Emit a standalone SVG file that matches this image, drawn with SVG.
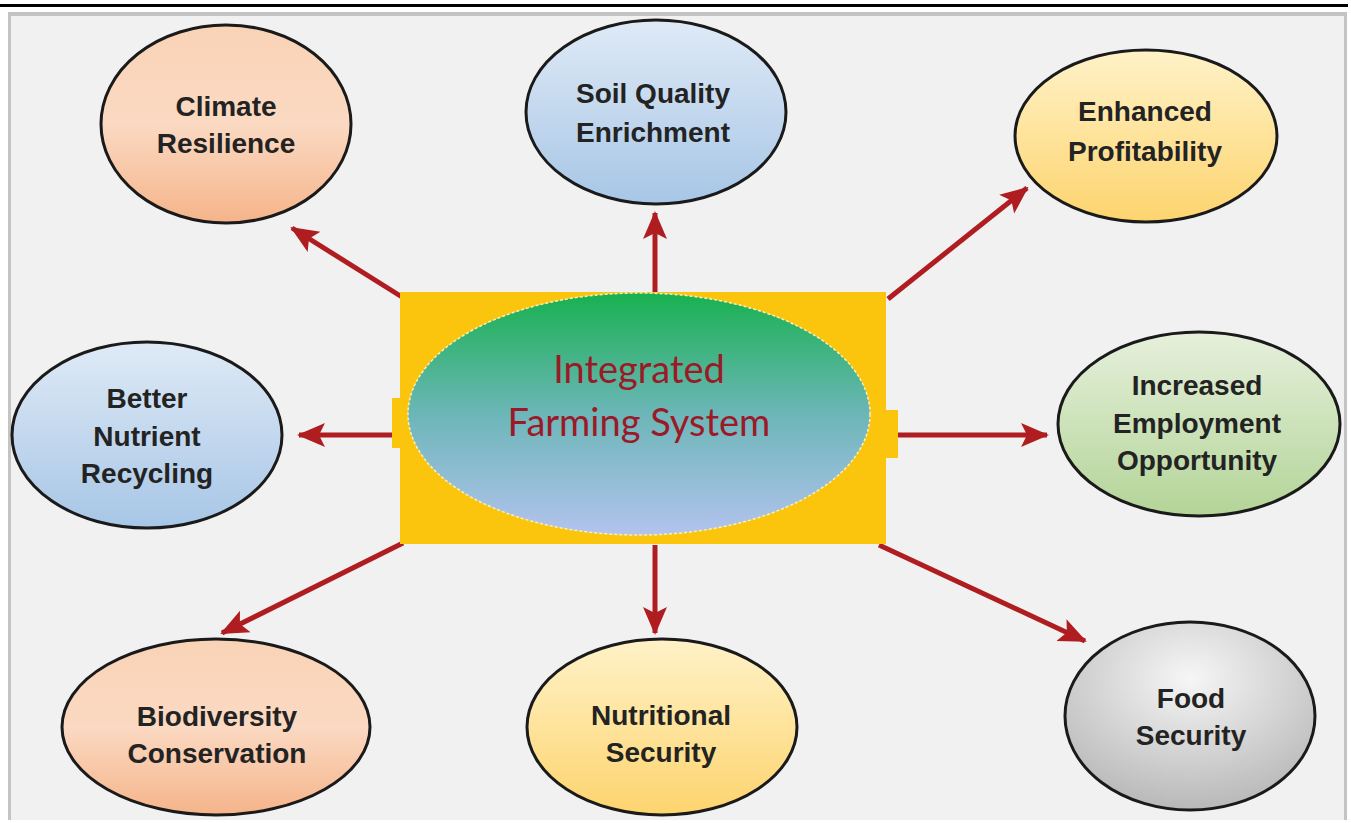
<svg xmlns="http://www.w3.org/2000/svg" width="1351" height="823" viewBox="0 0 1351 823">
<defs>
<linearGradient id="gPeach" x1="0" y1="0" x2="0" y2="1"><stop offset="0" stop-color="#f9d3b6"/><stop offset="0.5" stop-color="#fbd9c2"/><stop offset="1" stop-color="#f5b48a"/></linearGradient>
<linearGradient id="gBlue" x1="0" y1="0" x2="0" y2="1"><stop offset="0" stop-color="#dfeaf6"/><stop offset="1" stop-color="#a7c6e6"/></linearGradient>
<linearGradient id="gYellow" x1="0" y1="0" x2="0" y2="1"><stop offset="0" stop-color="#fff2c8"/><stop offset="1" stop-color="#fdd46e"/></linearGradient>
<linearGradient id="gGreen" x1="0" y1="0" x2="0" y2="1"><stop offset="0" stop-color="#e6f0dc"/><stop offset="1" stop-color="#b3d497"/></linearGradient>
<radialGradient id="gGray" cx="0.5" cy="0.3" r="0.75"><stop offset="0" stop-color="#f6f6f6"/><stop offset="1" stop-color="#b4b4b4"/></radialGradient>
<linearGradient id="gCenter" x1="0" y1="0" x2="0" y2="1"><stop offset="0" stop-color="#18b150"/><stop offset="0.5" stop-color="#6cb6b8"/><stop offset="1" stop-color="#b3c3ee"/></linearGradient>
<marker id="ah" markerUnits="userSpaceOnUse" markerWidth="28" markerHeight="28" viewBox="0 0 28 28" refX="26" refY="14" orient="auto">
<path d="M0,2 L28,14 L0,26 L6,14 Z" fill="#b01d20"/>
</marker>
<style>
.node ellipse{stroke:#1a1a1a;stroke-width:3}
.lbl{font-family:"Liberation Sans",Arial,sans-serif;font-weight:bold;font-size:28px;fill:#232323;text-anchor:middle}
.ctr{font-family:Lato,"Open Sans",sans-serif;font-size:38px;fill:#9b1a27;text-anchor:middle}
#connectors line{stroke:#b01d20;stroke-width:5;marker-end:url(#ah)}
</style>
</defs>
<rect x="0" y="0" width="1351" height="823" fill="#ffffff"/>
<rect x="0" y="4" width="1348" height="3" fill="#000"/>
<rect x="8" y="12" width="1339" height="808" fill="#c4c4c4"/>
<rect x="11" y="16" width="1333" height="804" fill="#f1f1f1"/>

<g id="connectors">
<line x1="402" y1="297" x2="292" y2="228"/>
<line x1="655" y1="292" x2="655" y2="213"/>
<line x1="888" y1="299" x2="1027" y2="188"/>
<line x1="394" y1="435" x2="299" y2="435"/>
<line x1="897" y1="435" x2="1047" y2="435"/>
<line x1="403" y1="543" x2="222" y2="633"/>
<line x1="655" y1="545" x2="655" y2="633"/>
<line x1="879" y1="545" x2="1085" y2="641"/>
</g>

<g id="center">
<rect x="392" y="398" width="12" height="50" fill="#fcc50d"/>
<rect x="882" y="410" width="16" height="48" fill="#fcc50d"/>
<rect x="400" y="292" width="486" height="252" fill="#fcc50d"/>
<ellipse cx="639" cy="414" rx="231" ry="121" fill="url(#gCenter)" stroke="#f4f0c0" stroke-width="1.5" stroke-dasharray="3 2"/>
<text class="ctr" x="639" y="383">Integrated</text>
<text class="ctr" x="639" y="436">Farming System</text>
</g>

<g id="n-climate" class="node">
<ellipse cx="226" cy="124" rx="125" ry="99" fill="url(#gPeach)"/>
<text class="lbl" x="226" y="116">Climate</text>
<text class="lbl" x="226" y="153">Resilience</text>
</g>
<g id="n-soil" class="node">
<ellipse cx="656" cy="112" rx="130" ry="92" fill="url(#gBlue)"/>
<text class="lbl" x="653" y="103">Soil Quality</text>
<text class="lbl" x="653" y="142">Enrichment</text>
</g>
<g id="n-profit" class="node">
<ellipse cx="1146" cy="136" rx="131" ry="86" fill="url(#gYellow)"/>
<text class="lbl" x="1145" y="121">Enhanced</text>
<text class="lbl" x="1145" y="161">Profitability</text>
</g>
<g id="n-nutrient" class="node">
<ellipse cx="147" cy="435" rx="135" ry="93" fill="url(#gBlue)"/>
<text class="lbl" x="147" y="408">Better</text>
<text class="lbl" x="147" y="446">Nutrient</text>
<text class="lbl" x="147" y="483">Recycling</text>
</g>
<g id="n-employment" class="node">
<ellipse cx="1199" cy="424" rx="141" ry="92" fill="url(#gGreen)"/>
<text class="lbl" x="1197" y="395">Increased</text>
<text class="lbl" x="1197" y="433">Employment</text>
<text class="lbl" x="1197" y="470">Opportunity</text>
</g>
<g id="n-biodiversity" class="node">
<ellipse cx="216" cy="727" rx="154" ry="88" fill="url(#gPeach)"/>
<text class="lbl" x="217" y="726">Biodiversity</text>
<text class="lbl" x="217" y="763">Conservation</text>
</g>
<g id="n-nutritional" class="node">
<ellipse cx="662" cy="727" rx="135" ry="88" fill="url(#gYellow)"/>
<text class="lbl" x="661" y="725">Nutritional</text>
<text class="lbl" x="661" y="762">Security</text>
</g>
<g id="n-food" class="node">
<ellipse cx="1190" cy="716" rx="125" ry="94" fill="url(#gGray)"/>
<text class="lbl" x="1191" y="708">Food</text>
<text class="lbl" x="1191" y="745">Security</text>
</g>
</svg>
